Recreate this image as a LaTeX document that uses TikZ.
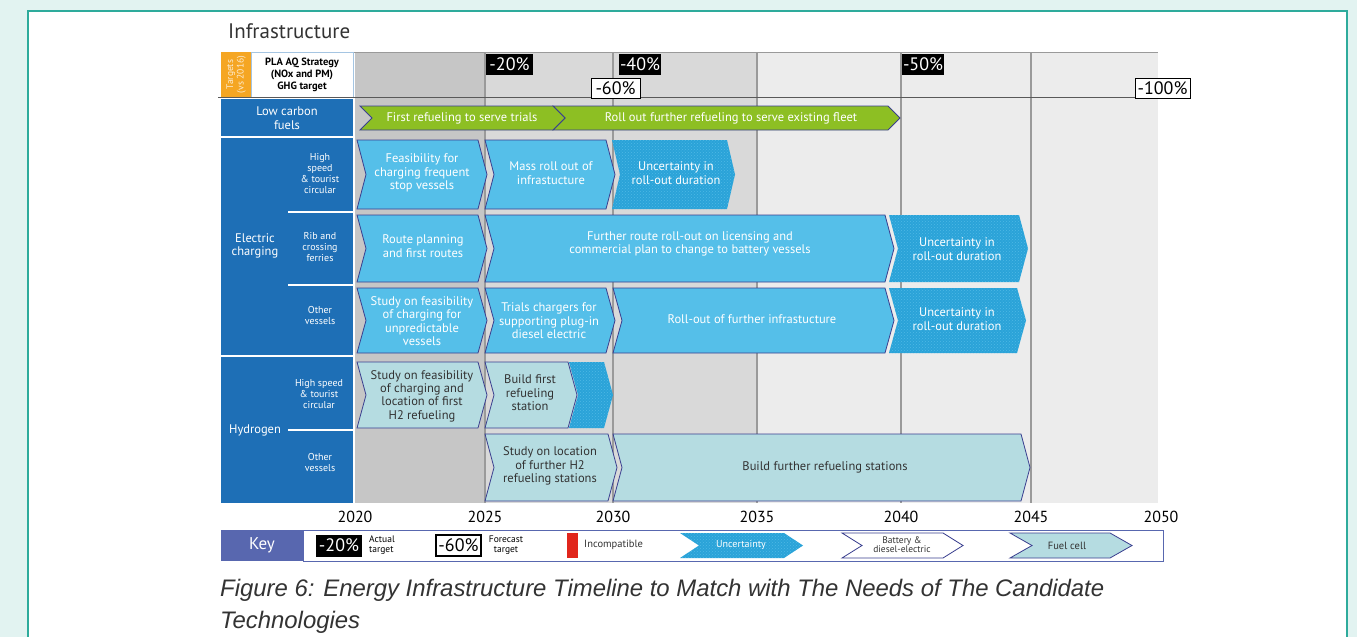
\documentclass[tikz,border=0pt]{standalone}
\usepackage{fontspec}
\setmainfont{PT Sans}
\newfontfamily\capfont{Liberation Sans}
\usetikzlibrary{patterns}
\definecolor{mint}{HTML}{E2F3F1}
\definecolor{tealb}{HTML}{2EAB9C}
\definecolor{colblue}{HTML}{1E6FB6}
\definecolor{chevblue}{HTML}{55BFE9}
\definecolor{uncblue}{HTML}{2AA3D8}
\definecolor{unclight}{HTML}{4FB8E6}
\definecolor{hteal}{HTML}{B5DCE1}
\definecolor{edgeblue}{HTML}{3A3F8F}
\definecolor{greenc}{HTML}{8DBF23}
\definecolor{orangec}{HTML}{F5A623}
\definecolor{keyblue}{HTML}{5867AF}
\definecolor{redc}{HTML}{E1261C}
\definecolor{bgA}{HTML}{C6C6C6}
\definecolor{bgB}{HTML}{D9D9D9}
\definecolor{bgC}{HTML}{ECECEC}
\definecolor{gridc}{HTML}{9A9A9A}
\definecolor{txt}{HTML}{333333}
\newcommand{\chevpath}[6]{%
  \path[#1] (#2,#4) -- ({#3-#6},#4) -- (#3,{(#4+#5)/2}) -- ({#3-#6},#5) -- (#2,#5) -- ({#2+#6},{(#4+#5)/2}) -- cycle;}
\tikzset{
  elec/.style={fill=chevblue, draw=edgeblue, line width=0.8pt},
  hyd/.style={fill=hteal, draw=edgeblue, line width=0.8pt},
  grn/.style={fill=greenc, draw=edgeblue, line width=0.8pt},
  unc/.style={fill=uncblue},
  uncdots/.style={pattern=crosshatch dots, pattern color=unclight},
  ctext/.style={font=\fontsize{12.5}{13.4}\selectfont, align=center, text=white, inner sep=0pt},
  dtext/.style={font=\fontsize{12.5}{13.4}\selectfont, align=center, text=txt, inner sep=0pt},
  ltext/.style={font=\fontsize{12.5}{13.5}\selectfont, align=center, text=white, inner sep=0pt},
  stext/.style={font=\fontsize{10}{11}\selectfont, align=center, text=white, inner sep=0pt},
  actual/.style={fill=black, text=white, font=\fontsize{18}{18}\selectfont, inner sep=0pt, minimum height=21pt},
  forecast/.style={fill=white, draw=black, line width=0.8pt, text=black, font=\fontsize{18}{18}\selectfont, inner sep=0pt, minimum height=20pt},
  year/.style={font=\fontsize{16}{16}\selectfont, text=black},
  keytext/.style={font=\fontsize{9.5}{9.5}\selectfont, align=center, inner sep=0pt},
}
\begin{document}
\begin{tikzpicture}[x=1pt,y=-1pt]
\useasboundingbox (0,0) rectangle (1357,637);
\fill[mint] (0,0) rectangle (1357,637);
\fill[white] (28,11) rectangle (1347,640);
\draw[tealb, line width=2pt] (28,640) -- (28,11) -- (1347,11) -- (1347,640);
% title
\node[anchor=base west, font=\fontsize{21}{21}\selectfont, text=txt, inner sep=0pt] (title) at (228,38) {Infrastructure};
% chart backgrounds
\fill[bgA] (355,52) rectangle (485,503);
\fill[bgB] (485,52) rectangle (757,503);
\fill[bgC] (757,52) rectangle (1158,503);
\draw[gridc, line width=0.8pt] (353,52) -- (1158,52);
\foreach \gx in {485,613,757,901,1031} \draw[gridc, line width=1.3pt] (\gx,52) -- (\gx,503);
% label column
\fill[orangec] (221,52) rectangle (251,97);
\fill[white] (251,52) rectangle (353,97);
\draw[colblue!40, line width=0.6pt] (251,52) rectangle (353,97);
\fill[colblue] (221,99) rectangle (353,136);
\fill[colblue] (221,138) rectangle (353,355);
\fill[colblue] (221,357) rectangle (353,503);
\draw[white, line width=1.2pt] (288,212) -- (353,212);
\draw[white, line width=1.2pt] (288,285) -- (353,285);
\draw[white, line width=1.2pt] (288,430) -- (353,430);
\draw[black!65, line width=0.8pt] (218,97) -- (1138,97);
\node[rotate=90, font=\fontsize{9.5}{10.5}\selectfont, text=white!80!orangec, align=center, inner sep=0pt] (targets) at (236,74.5) {Targets\\(vs 2016)};
\node[font=\bfseries\fontsize{10.5}{12}\selectfont, align=center, inner sep=0pt] (pla) at (302,74.5) {PLA AQ Strategy\\(NOx and PM)\\GHG target};
\node[ltext] (lcf) at (287,118) {Low carbon\\fuels};
\node[ltext] (elec) at (255,246) {Electric\\charging};
\node[ltext, fill=colblue, inner xsep=2pt, inner ysep=1pt] (hydro) at (255,430) {Hydrogen};
\node[stext] (ehs) at (320,174) {High\\speed\\\& tourist\\circular};
\node[stext] (erib) at (320,247) {Rib and\\crossing\\ferries};
\node[stext] (eoth) at (320,315) {Other\\vessels};
\node[stext] (hhs) at (319,394) {High speed\\\& tourist\\circular};
\node[stext] (hoth) at (320,462) {Other\\vessels};
% targets
\node[actual, minimum width=47pt] (t20) at (509.5,64.5) {-20\%};
\node[actual, minimum width=42pt] (t40) at (640,64.5) {-40\%};
\node[actual, minimum width=42pt] (t50) at (923,64.5) {-50\%};
\node[forecast, minimum width=49pt] (t60) at (615.5,88) {-60\%};
\node[forecast, minimum width=55pt] (t100) at (1162.5,88) {-100\%};
% low carbon row
\chevpath{grn}{553}{900}{106}{130}{12}
\chevpath{grn}{360}{565}{106}{130}{12}
\node[ctext] (lc1) at (462,118) {First refueling to serve trials};
\node[ctext] (lc2) at (731,118) {Roll out further refueling to serve existing fleet};
% electric high speed
\chevpath{elec}{357}{487}{140}{209}{9}
\chevpath{elec}{485}{615}{140}{209}{9}
\chevpath{unc}{612}{735}{140}{209}{8}
\chevpath{uncdots}{612}{735}{140}{209}{8}
\node[ctext] (e1) at (422,173) {Feasibility for\\charging frequent\\stop vessels};
\node[ctext] (e2) at (551,173) {Mass roll out of\\infrastucture};
\node[ctext] (e3) at (676,173) {Uncertainty in\\roll-out duration};
% rib
\chevpath{elec}{357}{487}{215}{282}{9}
\chevpath{elec}{485}{894}{215}{282}{9}
\chevpath{unc}{889}{1028}{215}{282}{9}
\chevpath{uncdots}{889}{1028}{215}{282}{9}
\node[ctext] (r1) at (423,246) {Route planning\\and first routes};
\node[ctext] (r2) at (690,244) {Further route roll-out on licensing and\\commercial plan to change to battery vessels};
\node[ctext] (r3) at (957,249) {Uncertainty in\\roll-out duration};
% other vessels
\chevpath{elec}{357}{487}{288}{353}{9}
\chevpath{elec}{485}{615}{288}{353}{9}
\chevpath{elec}{613}{894}{288}{353}{9}
\chevpath{unc}{889}{1026}{288}{353}{9}
\chevpath{uncdots}{889}{1026}{288}{353}{9}
\node[ctext] (o1) at (422,321) {Study on feasibility\\of charging for\\unpredictable\\vessels};
\node[ctext] (o2) at (549,321) {Trials chargers for\\supporting plug-in\\diesel electric};
\node[ctext] (o3) at (752,319) {Roll-out of further infrastucture};
\node[ctext] (o4) at (957,319) {Uncertainty in\\roll-out duration};
% hydrogen high speed
\chevpath{hyd}{357}{487}{362}{428}{9}
\chevpath{unc}{569}{613}{362}{428}{9}
\chevpath{uncdots}{569}{613}{362}{428}{9}
\chevpath{hyd}{485}{577}{362}{428}{9}
\node[dtext] (h1) at (422,396) {Study on feasibility\\of charging and\\location of first\\H2 refueling};
\node[dtext] (h2) at (530,393) {Build first\\refueling\\station};
% hydrogen other
\chevpath{hyd}{485}{617}{434}{501}{9}
\chevpath{hyd}{613}{1030}{434}{501}{9}
\node[dtext] (h3) at (550,466) {Study on location\\of further H2\\refueling stations};
\node[dtext] (h4) at (825,467) {Build further refueling stations};
% years
\foreach \yr/\yx in {2020/355,2025/485,2030/613,2035/757,2040/901,2045/1031,2050/1161}
  \node[year] (y\yr) at (\yx,517) {\yr};
% key
\fill[keyblue] (221,530) rectangle (303,561);
\draw[keyblue, line width=1pt, fill=white] (303,530) rectangle (1163,561);
\node[text=white, font=\fontsize{17}{17}\selectfont] (key) at (262,545.5) {Key};
\node[actual, minimum width=46pt, minimum height=22pt] (k20) at (339,545.5) {-20\%};
\node[keytext, align=left, font=\fontsize{9.5}{9.8}\selectfont] (kact) at (382,545) {Actual\\target};
\node[forecast, minimum width=45pt, minimum height=21pt, line width=1.2pt] (k60) at (458.5,545.5) {-60\%};
\node[keytext, font=\fontsize{9.5}{9.8}\selectfont] (kfor) at (506,545) {Forecast\\target};
\fill[redc] (567,533) rectangle (578,558);
\node[keytext, anchor=west, text=txt, font=\fontsize{10.5}{10.5}\selectfont] (kinc) at (584,544.5) {Incompatible};
\chevpath{unc}{680}{803}{533}{558}{19}
\chevpath{uncdots}{680}{803}{533}{558}{19}
\node[keytext, text=white, font=\fontsize{10}{10}\selectfont] (kunc) at (741,545) {Uncertainty};
\chevpath{fill=white, draw=edgeblue, line width=0.8pt}{842}{963}{533}{558}{20}
\node[keytext, text=txt, font=\fontsize{9.5}{9.3}\selectfont] (kbat) at (902,545) {Battery \&\\diesel-electric};
\chevpath{hyd}{1010}{1132}{533}{558}{22}
\node[keytext, text=txt, font=\fontsize{10.5}{10.5}\selectfont] (kfc) at (1067,545.5) {Fuel cell};
% caption
\node[anchor=base west, align=left, inner sep=0pt, text=txt, font=\capfont\itshape\fontsize{23.9}{32}\selectfont] (cap) at (220,628) {Figure 6: Energy Infrastructure Timeline to Match with The Needs of The Candidate\\Technologies};
\end{tikzpicture}
\end{document}
